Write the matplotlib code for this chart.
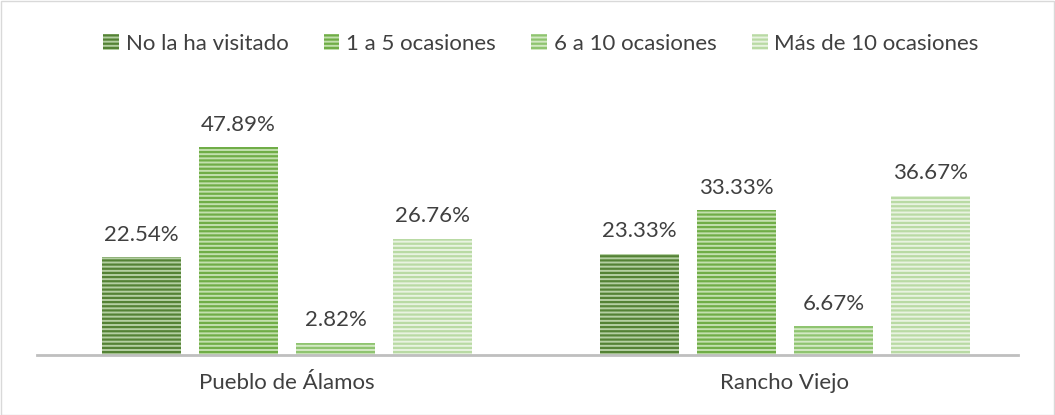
import matplotlib.pyplot as plt
import matplotlib.patches as mpatches
import numpy as np

plt.rcParams['font.family'] = ['Lato', 'DejaVu Sans']
plt.rcParams['hatch.linewidth'] = 1.6

grupos = ["Pueblo de Álamos", "Rancho Viejo"]
series = ["No la ha visitado", "1 a 5 ocasiones", "6 a 10 ocasiones", "Más de 10 ocasiones"]
valores = [
    [22.54, 23.33],
    [47.89, 33.33],
    [2.82, 6.67],
    [26.76, 36.67],
]
etiquetas = [
    ["22.54%", "23.33%"],
    ["47.89%", "33.33%"],
    ["2.82%", "6.67%"],
    ["26.76%", "36.67%"],
]

lineas = ["#548235", "#70AD47", "#8FC470", "#B9DAA4"]
fondos = ["#B4CFA2", "#C3E0AE", "#D3E9C4", "#E8F3E0"]

fig = plt.figure(figsize=(10.55, 4.15), dpi=100)
ax = fig.add_axes([37 / 1055, 60 / 415, 981 / 1055, 240 / 415])

x = np.arange(len(grupos))
paso = 0.1948
ancho = 0.159
for i, s in enumerate(series):
    pos = x + (i - 1.5) * paso
    ax.bar(pos, valores[i], width=ancho, color=fondos[i], edgecolor=lineas[i],
           hatch="----", linewidth=0, label=s)
    for p, v, t in zip(pos, valores[i], etiquetas[i]):
        ax.annotate(t, (p, v), xytext=(0, 9), textcoords="offset points",
                    ha="center", va="bottom", fontsize=16, color="#404040")

ax.set_xlim(-0.502, 1.468)
ax.set_ylim(0, 240 / 4.343)
ax.set_xticks(x)
ax.set_xticklabels(grupos, fontsize=16, color="#404040")
ax.tick_params(axis="x", length=0, pad=13)
ax.set_yticks([])
for lado in ["top", "right", "left"]:
    ax.spines[lado].set_visible(False)
ax.spines["bottom"].set_color("#BFBFBF")
ax.spines["bottom"].set_linewidth(2)

manejadores = [mpatches.Patch(facecolor=fondos[i], edgecolor=lineas[i], hatch="----",
                              linewidth=0, label=s) for i, s in enumerate(series)]
fig.legend(handles=manejadores, loc="center", bbox_to_anchor=(541 / 1055, 1 - 44 / 415), ncol=4,
           frameon=False, fontsize=16, labelcolor="#404040", handlelength=0.7,
           handleheight=0.7, handletextpad=0.3, columnspacing=1.6)

fig.patches.append(mpatches.Rectangle((0.5 / 1055, 0.5 / 415), 1053 / 1055, 413 / 415,
                                      transform=fig.transFigure, fill=False,
                                      edgecolor="#D9D9D9", linewidth=1))

fig.savefig("out.png", dpi=100)
